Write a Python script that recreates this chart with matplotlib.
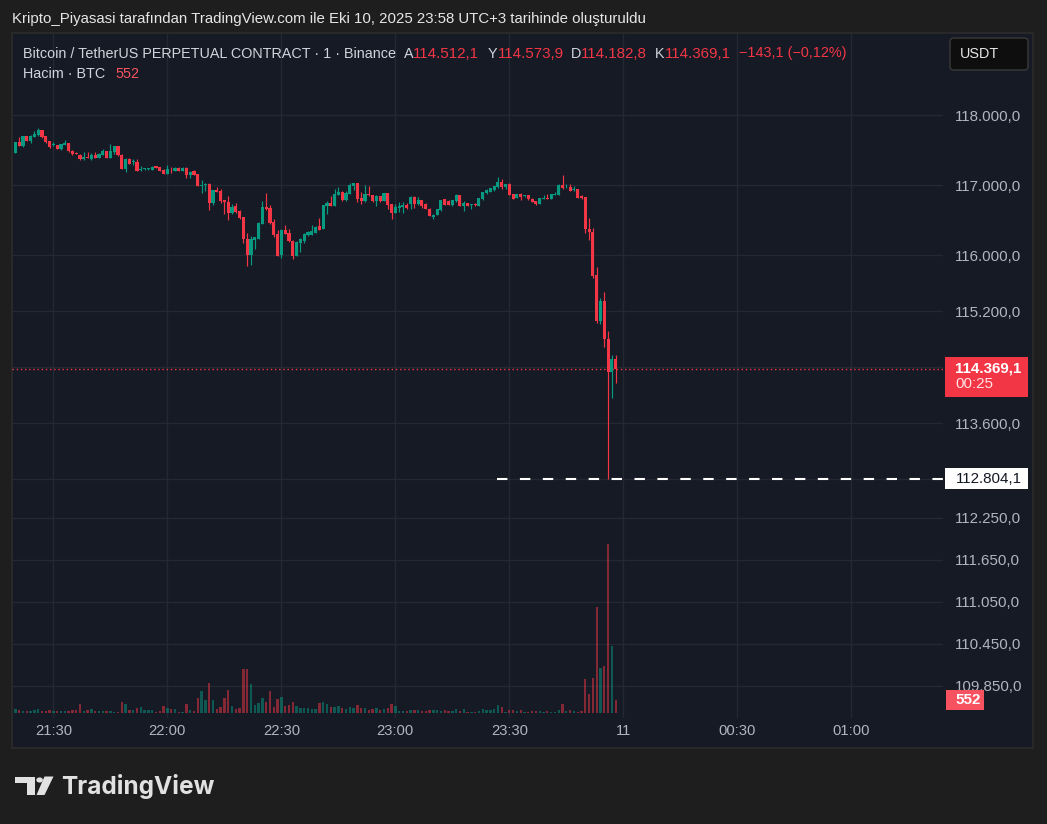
import numpy as np
import matplotlib
matplotlib.use("Agg")
import matplotlib.pyplot as plt
from matplotlib.patches import Rectangle, FancyBboxPatch, Circle, Polygon
from matplotlib.transforms import blended_transform_factory

plt.rcParams['font.family'] = ['Liberation Sans', 'DejaVu Sans']

# ---------------- data (1-minute candles, 21:20 .. 23:58) ----------------
start_label = "21:20"
start_minute = 21 * 60 + 20

opens = [117468, 117613, 117560, 117700, 117628, 117690, 117715, 117787, 117700, 117628,
         117575, 117570, 117517, 117575, 117599, 117497, 117459, 117439, 117381, 117410,
         117381, 117439, 117396, 117439, 117488, 117396, 117478, 117555, 117439, 117236,
         117381, 117330, 117338, 117218, 117230, 117232, 117222, 117270, 117261, 117222,
         117164, 117240, 117207, 117251, 117207, 117251, 117149, 117198, 117164, 116995,
         117004, 117019, 116744, 116937, 116917, 116787, 116768, 116599, 116700, 116628,
         116541, 116236, 116004, 116222, 116236, 116454, 116686, 116671, 116483, 116309,
         116004, 116367, 116323, 116207, 115990, 116183, 116207, 116294, 116294, 116318,
         116416, 116378, 116703, 116741, 116703, 116861, 116904, 116784, 116875, 116990,
         117028, 116813, 116770, 116871, 116856, 116770, 116842, 116775, 116885, 116727,
         116603, 116670, 116694, 116713, 116727, 116837, 116727, 116784, 116727, 116665,
         116550, 116574, 116641, 116799, 116780, 116717, 116770, 116861, 116703, 116746,
         116722, 116730, 116703, 116799, 116885, 116909, 116938, 116971, 117043, 116971,
         117014, 116871, 116818, 116871, 116849, 116856, 116808, 116775, 116732, 116811,
         116815, 116804, 116866, 116861, 117000, 116969, 116971, 116940, 116942, 116847,
         116827, 116380, 116337, 115718, 115056, 115344, 114811, 114326, 114512.1]
highs = [117620, 117686, 117705, 117705, 117719, 117773, 117816, 117795, 117705, 117632,
         117613, 117575, 117590, 117642, 117604, 117500, 117473, 117444, 117478, 117478,
         117468, 117478, 117459, 117512, 117492, 117584, 117560, 117560, 117444, 117390,
         117391, 117376, 117376, 117280, 117246, 117251, 117280, 117280, 117265, 117226,
         117294, 117261, 117255, 117255, 117255, 117255, 117198, 117212, 117168, 117077,
         117038, 117030, 116940, 116975, 116946, 116790, 116845, 116739, 116744, 116647,
         116545, 116323, 116280, 116260, 116475, 116773, 116888, 116715, 116512, 116367,
         116372, 116434, 116376, 116212, 116198, 116241, 116312, 116352, 116439, 116415,
         116540, 116720, 116775, 116847, 116942, 116971, 116918, 116918, 117038, 117038,
         117038, 116899, 117000, 116985, 116860, 116856, 116847, 116890, 116890, 116730,
         116737, 116760, 116760, 116751, 116842, 116842, 116837, 116790, 116751, 116670,
         116590, 116665, 116790, 116808, 116789, 116790, 116875, 116866, 116770, 116750,
         116736, 116746, 116818, 116904, 116952, 116962, 116990, 117115, 117095, 117019,
         117028, 116875, 116875, 116895, 116856, 116860, 116813, 116780, 116823, 116856,
         116880, 116875, 116909, 117014, 117143, 117024, 117014, 116990, 116947, 116861,
         116832, 116539, 116395, 115833, 115387, 115473, 114912, 114580, 114573.9]
lows = [117460, 117555, 117546, 117628, 117604, 117686, 117710, 117680, 117599, 117540,
        117555, 117512, 117502, 117570, 117483, 117440, 117445, 117367, 117362, 117386,
        117357, 117391, 117386, 117435, 117391, 117391, 117444, 117425, 117230, 117188,
        117300, 117289, 117200, 117198, 117217, 117225, 117217, 117246, 117203, 117159,
        117159, 117183, 117203, 117203, 117203, 117111, 117106, 117150, 116985, 116888,
        116917, 116642, 116719, 116898, 116744, 116584, 116502, 116584, 116608, 116520,
        116183, 115850, 115860, 116091, 116230, 116450, 116650, 116444, 116261, 115990,
        115966, 116300, 116190, 115946, 115985, 116048, 116178, 116270, 116290, 116313,
        116360, 116372, 116588, 116698, 116698, 116856, 116770, 116780, 116870, 116938,
        116760, 116727, 116765, 116847, 116756, 116703, 116765, 116770, 116655, 116512,
        116598, 116617, 116607, 116655, 116665, 116670, 116722, 116679, 116655, 116555,
        116512, 116570, 116636, 116712, 116712, 116703, 116765, 116698, 116631, 116698,
        116660, 116703, 116698, 116794, 116880, 116904, 116923, 116966, 116952, 116942,
        116856, 116799, 116813, 116789, 116832, 116794, 116755, 116713, 116727, 116799,
        116799, 116799, 116861, 116856, 116952, 116957, 116918, 116918, 116813, 116799,
        116316, 116212, 115680, 115036, 115017, 114696, 112804.1, 113966, 114182.8]
closes = [117613, 117560, 117700, 117632, 117700, 117734, 117787, 117686, 117613, 117546,
          117580, 117517, 117584, 117604, 117488, 117444, 117449, 117381, 117410, 117391,
          117439, 117396, 117454, 117488, 117396, 117497, 117555, 117430, 117236, 117381,
          117309, 117338, 117207, 117224, 117236, 117241, 117265, 117251, 117207, 117164,
          117232, 117228, 117251, 117207, 117251, 117154, 117193, 117154, 116990, 117004,
          117014, 116744, 116932, 116903, 116773, 116768, 116599, 116695, 116613, 116526,
          116227, 116004, 116236, 116256, 116468, 116686, 116657, 116468, 116289, 115995,
          116367, 116309, 116198, 115990, 116193, 116227, 116309, 116328, 116352, 116410,
          116368, 116713, 116741, 116703, 116875, 116904, 116784, 116885, 117000, 117028,
          116804, 116775, 116871, 116856, 116775, 116847, 116770, 116885, 116717, 116603,
          116684, 116703, 116713, 116670, 116837, 116727, 116784, 116708, 116660, 116560,
          116583, 116660, 116784, 116717, 116717, 116784, 116861, 116703, 116741, 116703,
          116732, 116722, 116813, 116899, 116933, 116957, 116985, 117043, 116976, 117014,
          116861, 116808, 116871, 116832, 116853, 116808, 116760, 116727, 116813, 116815,
          116811, 116871, 116871, 117000, 116957, 116973, 116923, 116944, 116818, 116813,
          116378, 116328, 115704, 115056, 115344, 114801, 114326, 114512.2, 114369.1]
volumes = [166, 124, 83, 83, 97, 138, 179, 97, 97, 138,
           97, 97, 97, 97, 97, 138, 110, 359, 97, 138,
           179, 97, 97, 97, 97, 97, 55, 55, 469, 359,
           138, 138, 221, 262, 138, 138, 138, 55, 97, 304,
           221, 179, 179, 55, 55, 386, 138, 97, 635, 925,
           552, 1256, 552, 179, 262, 635, 966, 304, 179, 221,
           1835, 1835, 1214, 345, 428, 635, 469, 925, 262, 593,
           676, 304, 345, 469, 304, 221, 221, 221, 179, 179,
           428, 469, 386, 262, 262, 304, 221, 179, 262, 221,
           345, 221, 221, 138, 179, 221, 138, 179, 221, 386,
           304, 97, 97, 97, 138, 138, 138, 97, 97, 138,
           138, 138, 97, 138, 97, 97, 179, 97, 179, 55,
           55, 55, 97, 179, 138, 138, 179, 345, 262, 55,
           138, 138, 97, 138, 55, 55, 97, 97, 97, 55,
           97, 55, 55, 138, 386, 97, 138, 97, 55, 97,
           1421, 800, 1463, 4402, 1877, 1960, 7010, 2788, 552]

time_ticks = [21 * 60 + 30, 22 * 60, 22 * 60 + 30, 23 * 60, 23 * 60 + 30, 24 * 60, 24 * 60 + 30, 25 * 60]
time_labels = ["21:30", "22:00", "22:30", "23:00", "23:30", "11", "00:30", "01:00"]
price_ticks = [118000, 117000, 116000, 115200, 114400, 113600, 112800, 112250, 111650, 111050, 110450, 109850]
price_labels = ["118.000,0", "117.000,0", "116.000,0", "115.200,0", "", "113.600,0", "",
                "112.250,0", "111.650,0", "111.050,0", "110.450,0", "109.850,0"]
last_price = 114369.1
low_price = 112804.1
last_volume = 552

# ---------------- styling ----------------
UP = '#089981'
DOWN = '#f23645'
BG = '#161a25'
OUTER = '#1e1e1e'
GRID = '#242833'
TXT = '#b2b5be'
AXFS = 10.9
HFS = 10.4

W, H = 1047, 824
fig = plt.figure(figsize=(W / 100, H / 100), dpi=100)
fig.patch.set_facecolor(OUTER)


def fx(x):
    return x / W


def fy(y):
    return 1 - y / H


def frect(x0, y0, x1, y1, **kw):
    r = Rectangle((fx(x0), fy(y1)), (x1 - x0) / W, (y1 - y0) / H, transform=fig.transFigure, **kw)
    fig.add_artist(r)
    return r


# chart panel
frect(12, 33, 1033, 748, facecolor=BG, edgecolor='#2c2c2c', lw=1.2, zorder=-5)

rect = [fx(12), fy(718), (943 - 12) / W, (718 - 33) / H]
ax_v = fig.add_axes(rect, zorder=0)
ax = fig.add_axes(rect, zorder=1, sharex=ax_v)
ax.set_facecolor('none')
ax_v.set_facecolor('none')

x = np.arange(len(closes)) + start_minute
o = np.array(opens)
h = np.array(highs)
l = np.array(lows)
c = np.array(closes)
up = c >= o
cols = np.where(up, UP, DOWN)

xmin, xmax = 1279.1, 1524.15
ax.set_xlim(xmin, xmax)
ax.set_ylim(109390, 119176)
ax_v.set_ylim(-207, 28152)

# grid (drawn on the lower volume axes)
ax_v.vlines(time_ticks, 0, 1, transform=ax_v.get_xaxis_transform(), colors=GRID, lw=1, zorder=0)
ax_v.hlines(price_ticks, 0, 1, transform=blended_transform_factory(ax_v.transAxes, ax.transData),
            colors=GRID, lw=1, zorder=0)

# volume
vcols = [(8 / 255, 153 / 255, 129 / 255, 0.5) if u else (242 / 255, 54 / 255, 69 / 255, 0.5) for u in up]
ax_v.bar(x, volumes, width=0.62, color=vcols, linewidth=0, zorder=2)
ax_v.axis('off')

# candles
ax.vlines(x, l, h, colors=cols, lw=0.85, zorder=3)
ax.bar(x, np.maximum(np.abs(c - o), 12), bottom=np.minimum(o, c), width=0.82, color=cols, linewidth=0, zorder=4)

# last price dotted line
ax.axhline(last_price, color=DOWN, lw=1, ls=(0, (1, 2)), zorder=2)
# low marker dashed line
ax.hlines(low_price, 1406.8, xmax, colors='white', lw=1.5, linestyles=(0, (5, 6)), zorder=5)

for s in ax.spines.values():
    s.set_visible(False)
ax.yaxis.tick_right()
ax.set_yticks(price_ticks)
ax.set_yticklabels(price_labels)
ax.set_xticks(time_ticks)
ax.set_xticklabels(time_labels)
ax.tick_params(axis='y', length=0, pad=8.6, labelcolor=TXT, labelsize=AXFS)
ax.tick_params(axis='x', length=0, pad=4.6, labelcolor=TXT, labelsize=10.6)

# ---------------- price scale labels ----------------
frect(945, 357, 1028, 397, facecolor=DOWN, edgecolor='none', zorder=5)
fig.text(fx(955.5), fy(368.5), "114.369,1", color='white', fontsize=AXFS, fontweight='bold', va='center', zorder=6)
fig.text(fx(955.5), fy(384.5), "00:25", color='#ffe3e6', fontsize=AXFS, va='center', zorder=6)

frect(945, 468, 1028, 489, facecolor='white', edgecolor='none', zorder=5)
fig.text(fx(955.5), fy(478.5), "112.804,1", color='#131722', fontsize=AXFS, va='center', zorder=6)

frect(946, 690, 984, 710, facecolor='#f7525f', edgecolor='none', zorder=5)
fig.text(fx(955.5), fy(700), str(last_volume), color='white', fontsize=AXFS, fontweight='bold', va='center', zorder=6)

# USDT button
btn = FancyBboxPatch((fx(950), fy(70)), (1028 - 950) / W, (70 - 38) / H,
                     boxstyle="round,pad=0,rounding_size=0.004", transform=fig.transFigure,
                     facecolor='#0e0e0e', edgecolor='#3a3a3a', lw=1, zorder=5)
fig.add_artist(btn)
fig.text(fx(960), fy(54.5), "USDT", color='#e6e6e6', fontsize=10.4, va='center', zorder=6)

# ---------------- header texts ----------------
fig.text(fx(12), fy(19), "Kripto_Piyasasi tarafından TradingView.com ile Eki 10, 2025 23:58 UTC+3 tarihinde oluşturuldu",
         color='#e6e6e6', fontsize=10.8, va='center')

HC = '#d1d4dc'
fig.text(fx(23), fy(53.5), "Bitcoin / TetherUS PERPETUAL CONTRACT · 1 · Binance", color=HC, fontsize=HFS, va='center')
for lx, lab, vx, val in [(404, "A", 413, "114.512,1"), (488, "Y", 498, "114.573,9"),
                         (571, "D", 581, "114.182,8"), (655, "K", 665, "114.369,1")]:
    fig.text(fx(lx), fy(53.5), lab, color=HC, fontsize=HFS, va='center')
    fig.text(fx(vx), fy(53.5), val, color=DOWN, fontsize=10.9, va='center')
fig.text(fx(739), fy(53.5), "−143,1 (−0,12%)", color=DOWN, fontsize=HFS, va='center')
fig.text(fx(23), fy(74.5), "Hacim · BTC", color=HC, fontsize=HFS, va='center')
fig.text(fx(115), fy(74.5), "552", color='#f7525f', fontsize=HFS, va='center')

# ---------------- TradingView logo ----------------
LC = '#e1e1e1'
def fpoly(pts, **kw):
    p = Polygon([(fx(px), fy(py)) for px, py in pts], closed=True, transform=fig.transFigure, **kw)
    fig.add_artist(p)

fpoly([(15, 776.5), (35, 776.5), (35, 795), (26.5, 795), (26.5, 783.2), (15, 783.2)], facecolor=LC, edgecolor='none')
fig.add_artist(Circle((fx(39.6), fy(780)), 3.3 / W, transform=fig.transFigure, facecolor=LC, edgecolor='none'))
fpoly([(44.5, 776.5), (53.5, 776.5), (44.5, 795), (36.5, 795)], facecolor=LC, edgecolor='none')
fig.text(fx(61), fy(786.5), "TradingView", color=LC, fontsize=17.6, fontweight='bold',
         family=['Inter', 'DejaVu Sans'], va='center')

fig.savefig("out.png", dpi=100, facecolor=fig.get_facecolor())
